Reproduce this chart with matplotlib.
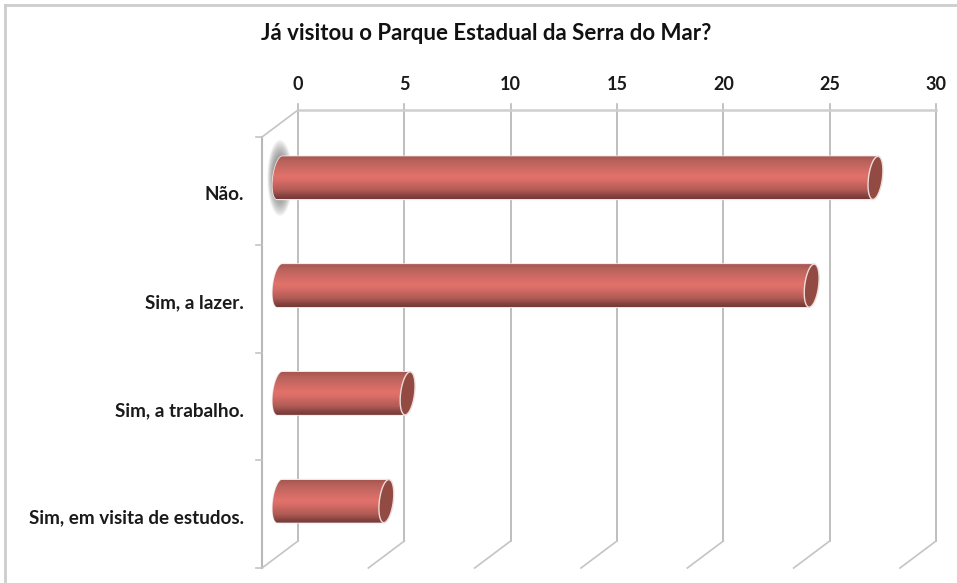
# plot.py - horizontal "cylinder" bars, fake 3D like the spreadsheet original
import numpy as np
import matplotlib
matplotlib.use("Agg")
import matplotlib.pyplot as plt
from matplotlib.colors import LinearSegmentedColormap
from matplotlib.path import Path
from matplotlib.patches import PathPatch
from matplotlib.lines import Line2D
from matplotlib.transforms import offset_copy, blended_transform_factory

title = "Já visitou o Parque Estadual da Serra do Mar?"
categories = ["Não.", "Sim, a lazer.", "Sim, a trabalho.", "Sim, em visita de estudos."]
values = [28, 25, 6, 5]
x_ticks = [0, 5, 10, 15, 20, 25, 30]

W, H = 957, 583
plt.rcParams["font.family"] = ["Lato", "DejaVu Sans"]
plt.rcParams["font.weight"] = "bold"

fig = plt.figure(figsize=(W / 100, H / 100), dpi=100)
# back wall of the chart, in pixels: x 298..936, y 110..541
ax = fig.add_axes([298 / W, 1 - 541 / H, (936 - 298) / W, (541 - 110) / H])
ax.set_axis_off()

# frame of the pasted picture, only top and left show
frame_col = "#cdcdcd"
fig.add_artist(Line2D([5 / W, 1], [1 - 5 / H, 1 - 5 / H], color=frame_col, lw=2))
fig.add_artist(Line2D([5 / W, 5 / W], [1 - 5 / H, 2 / H], color=frame_col, lw=2))

grid_col = "#b9b9b9"
bar_trans = offset_copy(ax.transData, fig=fig, x=-18, y=-14, units="dots")
px_x = 30 / (936 - 298)
px_y = 4 / (541 - 110)

# wall and floor lines
for t in x_ticks:
    ax.plot([t, t], [0, 4], color=grid_col, lw=1.3, zorder=1, clip_on=False)
    ax.plot([t, t], [-6 * px_y, 0], color=grid_col, lw=1.2, zorder=1, clip_on=False)
    ax.plot([t, t - 36 * px_x], [4, 4 + 27 * px_y], color="#c4c4c4", lw=1.2, zorder=1, clip_on=False)
ax.plot([0, 30], [0, 0], color="#cfcfcf", lw=1.8, zorder=1, clip_on=False)

# side wall, drawn 36px left and 27px down from the back wall
side_x = -36 * px_x
side_top = 27 * px_y
ax.plot([0, side_x], [0, side_top], color="#c4c4c4", lw=1.2, clip_on=False)
ax.plot([side_x, side_x], [side_top, 4 + side_top], color=grid_col, lw=1.5, clip_on=False)
for i in range(len(categories) + 1):
    ax.plot([side_x - 6 * px_x, side_x], [i + side_top, i + side_top], color="#c4c4c4", lw=1.2, clip_on=False)

# cylinder colours, top to bottom
cyl = LinearSegmentedColormap.from_list("cyl", [
    (0.0, "#a85650"), (0.12, "#b9625c"), (0.45, "#e1716b"),
    (0.55, "#dc6e68"), (0.8, "#b05a54"), (0.93, "#84423f"), (1.0, "#743a38"),
])
grad = np.linspace(0, 1, 128).reshape(-1, 1)

half_h = 21.5 * px_y
cap_w = 7 * px_x
shear = 2.5 * px_x

t_cap = np.linspace(-np.pi / 2, np.pi / 2, 60)


def cap_xy(xc, yc, side):
    # half ellipse of the bar end, side=+1 right, -1 left, running top to bottom
    xs = xc + side * cap_w * np.cos(t_cap) - shear * np.sin(t_cap)
    ys = yc + half_h * np.sin(t_cap)
    return xs, ys


# selection glow behind the first bar
gy, gx = np.mgrid[-1:1:80j, -1:1:60j]
glow = np.zeros((80, 60, 4))
glow[..., :3] = 0.45
glow[..., 3] = 0.95 * np.clip(1 - (gx ** 2 + gy ** 2), 0, 1) ** 0.9
im_glow = ax.imshow(glow, extent=(-13 * px_x, 13 * px_x, 0.5 + 39 * px_y, 0.5 - 39 * px_y),
                    transform=bar_trans, aspect="auto", zorder=2, interpolation="bilinear")
im_glow.set_clip_box(fig.bbox)

for i, v in enumerate(values):
    yc = i + 0.5
    rx, ry = cap_xy(v, yc, 1)
    lx, ly = cap_xy(0, yc, -1)
    # body: left cap bottom to top, then straight to the end cap centre line
    body_x = np.concatenate([lx[::-1], [v + shear, v - shear]])
    body_y = np.concatenate([ly[::-1], [yc - half_h, yc + half_h]])
    body = np.column_stack([body_x, body_y])
    outline = PathPatch(Path(np.vstack([body, body[:1]])), transform=bar_trans, facecolor="none",
                        edgecolor="#f0e6e4", lw=1.2, zorder=3, clip_on=False)
    ax.add_patch(outline)
    im = ax.imshow(grad, cmap=cyl, extent=(-1, v + 1, yc + half_h, yc - half_h), transform=bar_trans,
                   aspect="auto", zorder=4, interpolation="bilinear")
    im.set_clip_box(fig.bbox)
    im.set_clip_path(Path(np.vstack([body, body[:1]])), bar_trans)
    # end cap
    ex = np.concatenate([rx, cap_xy(v, yc, -1)[0][::-1]])
    ey = np.concatenate([ry, cap_xy(v, yc, -1)[1][::-1]])
    ax.fill(ex, ey, facecolor="#924a43", edgecolor="#ecdcd9", lw=1.0, zorder=5, transform=bar_trans, clip_on=False)

ax.set_xlim(0, 30)
ax.set_ylim(4, 0)

# labels
blend = blended_transform_factory(ax.transData, fig.transFigure)
for t in x_ticks:
    ax.text(t, 1 - 85 / H, str(t), transform=blend, ha="center", va="center", fontsize=13, color="#1a1a1a")
blend_y = blended_transform_factory(fig.transFigure, ax.transData)
for i, c in enumerate(categories):
    ax.text(244 / W, i + 0.5 + 31 * px_y, c, transform=blend_y, ha="right", va="center", fontsize=13.6, color="#1a1a1a")
fig.text(486 / W, 1 - 33 / H, title, ha="center", va="center", fontsize=16, color="#111111")

fig.savefig("out.png", dpi=100)
